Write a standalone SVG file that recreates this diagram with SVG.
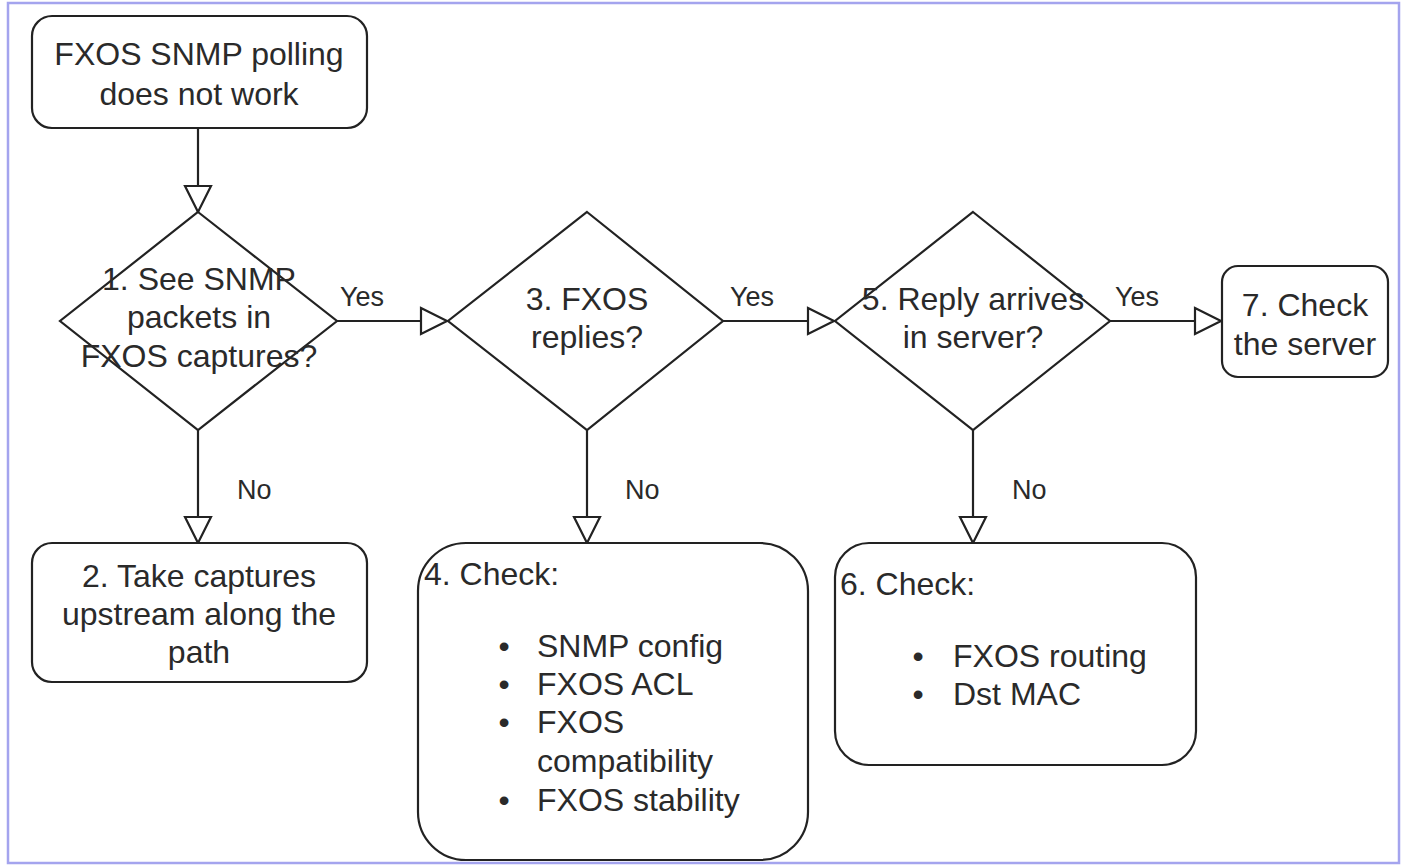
<svg xmlns="http://www.w3.org/2000/svg" width="1408" height="866" viewBox="0 0 1408 866">
<defs>
<style>
.shape{fill:#ffffff;stroke:#222222;stroke-width:2.2}
.t{font-family:"Liberation Sans",Arial,sans-serif;font-size:32px;fill:#2a2a2a}
.c{text-anchor:middle}
.lbl{font-family:"Liberation Sans",Arial,sans-serif;font-size:27px;fill:#2a2a2a}
.edge{fill:none;stroke:#222222;stroke-width:2.2}
</style>
<marker id="arr" viewBox="0 0 30 30" refX="28" refY="15" markerWidth="30" markerHeight="30" markerUnits="userSpaceOnUse" orient="auto">
<path d="M2,2 L28,15 L2,28 Z" fill="#ffffff" stroke="#222222" stroke-width="2.2"/>
</marker>
</defs>
<rect x="0" y="0" width="1408" height="866" fill="#ffffff"/>
<rect x="8" y="3" width="1391" height="860" fill="none" stroke="#a4a4ee" stroke-width="2.5"/>

<g id="connectors">
<line class="edge" x1="198" y1="128" x2="198" y2="212" marker-end="url(#arr)"/>
<line class="edge" x1="337" y1="321" x2="447" y2="321" marker-end="url(#arr)"/>
<line class="edge" x1="723" y1="321" x2="834" y2="321" marker-end="url(#arr)"/>
<line class="edge" x1="1110" y1="321" x2="1221" y2="321" marker-end="url(#arr)"/>
<line class="edge" x1="198" y1="430" x2="198" y2="543" marker-end="url(#arr)"/>
<line class="edge" x1="587" y1="430" x2="587" y2="543" marker-end="url(#arr)"/>
<line class="edge" x1="973" y1="430" x2="973" y2="543" marker-end="url(#arr)"/>
<text class="lbl" x="340" y="306">Yes</text>
<text class="lbl" x="730" y="306">Yes</text>
<text class="lbl" x="1115" y="306">Yes</text>
<text class="lbl" x="237" y="499">No</text>
<text class="lbl" x="625" y="499">No</text>
<text class="lbl" x="1012" y="499">No</text>
</g>

<g id="start">
<rect class="shape" x="32" y="16" width="335" height="112" rx="20" ry="20"/>
<text class="t c" x="199" y="65">FXOS SNMP polling</text>
<text class="t c" x="199" y="105">does not work</text>
</g>

<g id="d1">
<polygon class="shape" points="198,212 337,321 198,430 60,321"/>
<text class="t c" x="199" y="290">1. See SNMP</text>
<text class="t c" x="199" y="328">packets in</text>
<text class="t c" x="199" y="367">FXOS captures?</text>
</g>

<g id="d3">
<polygon class="shape" points="587,212 723,321 587,430 448,321"/>
<text class="t c" x="587" y="310">3. FXOS</text>
<text class="t c" x="587" y="348">replies?</text>
</g>

<g id="d5">
<polygon class="shape" points="973,212 1110,321 973,430 835,321"/>
<text class="t c" x="973" y="310">5. Reply arrives</text>
<text class="t c" x="973" y="348">in server?</text>
</g>

<g id="n7">
<rect class="shape" x="1222" y="266" width="166" height="111" rx="16" ry="16"/>
<text class="t c" x="1305" y="316">7. Check</text>
<text class="t c" x="1305" y="355">the server</text>
</g>

<g id="n2">
<rect class="shape" x="32" y="543" width="335" height="139" rx="20" ry="20"/>
<text class="t c" x="199" y="587">2. Take captures</text>
<text class="t c" x="199" y="625">upstream along the</text>
<text class="t c" x="199" y="663">path</text>
</g>

<g id="n4">
<rect class="shape" x="418" y="543" width="390" height="317" rx="48" ry="48"/>
<text class="t" x="424" y="585">4. Check:</text>
<text class="t c" x="504" y="657">•</text>
<text class="t" x="537" y="657">SNMP config</text>
<text class="t c" x="504" y="695">•</text>
<text class="t" x="537" y="695">FXOS ACL</text>
<text class="t c" x="504" y="733">•</text>
<text class="t" x="537" y="733">FXOS</text>
<text class="t" x="537" y="772">compatibility</text>
<text class="t c" x="504" y="811">•</text>
<text class="t" x="537" y="811">FXOS stability</text>
</g>

<g id="n6">
<rect class="shape" x="835" y="543" width="361" height="222" rx="34" ry="34"/>
<text class="t" x="840" y="595">6. Check:</text>
<text class="t c" x="918" y="667">•</text>
<text class="t" x="953" y="667">FXOS routing</text>
<text class="t c" x="918" y="705">•</text>
<text class="t" x="953" y="705">Dst MAC</text>
</g>
</svg>
